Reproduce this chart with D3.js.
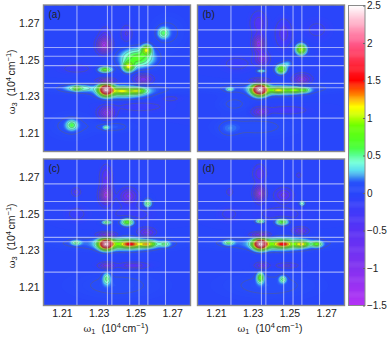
<!DOCTYPE html>
<html>
<head>
<meta charset="utf-8">
<script src="https://d3js.org/d3.v7.min.js"></script>
<style>
  html, body { margin: 0; padding: 0; background: #fff; }
  svg { display: block; }
  text { font-family: "Liberation Sans", Arial, sans-serif; fill: #222; }
  .greek { font-family: "DejaVu Serif", "Liberation Serif", serif; }
</style>
</head>
<body>
<div id="chart"></div>
<script>
// peaks, one row per feature: [w1, w3, height, width in w1, width in w3]
const peaksA = [
  [1.2340, 1.2338, 2.05, 0.0026, 0.0022], [1.2340, 1.2385, -1.0, 0.0030, 0.0010],
  [1.2425, 1.2331, 0.55, 0.0030, 0.0011], [1.2510, 1.2331, 0.62, 0.0032, 0.0011],
  [1.2440, 1.2322, 0.50, 0.0090, 0.0024], [1.2180, 1.2344, 0.36, 0.0014, 0.0008],
  [1.2190, 1.2346, 0.42, 0.0050, 0.0012], [1.2462, 1.2462, 0.95, 0.0020, 0.0018],
  [1.2561, 1.2556, 0.90, 0.0018, 0.0018], [1.2510, 1.2510, 0.72, 0.0064, 0.0036],
  [1.2652, 1.2647, 0.46, 0.0020, 0.0020], [1.2335, 1.2447, 0.75, 0.0026, 0.0011],
  [1.2154, 1.2144, 0.47, 0.0020, 0.0018], [1.2340, 1.2131, 0.36, 0.0011, 0.0007],
  [1.2330, 1.2580, -1.35, 0.0024, 0.0028], [1.2335, 1.2640, -0.25, 0.0020, 0.0030],
  [1.2344, 1.2211, -0.95, 0.0028, 0.0022], [1.2543, 1.2394, -0.85, 0.0030, 0.0018],
  [1.2452, 1.2644, -0.32, 0.0020, 0.0030], [1.2180, 1.2453, -0.18, 0.0060, 0.0018],
  [1.2150, 1.2140, 0.15, 0.0080, 0.0045], [1.2380, 1.2135, 0.16, 0.0070, 0.0020],
  [1.2680, 1.2650, 0.14, 0.0060, 0.0060], [1.2525, 1.2245, -0.18, 0.0100, 0.0020],
  [1.2690, 1.2290, -0.16, 0.0040, 0.0012], [1.2400, 1.2340, 0.14, 0.0300, 0.0020]
];
const peaksB = [
  [1.2338, 1.2338, 2.20, 0.0028, 0.0022], [1.2338, 1.2385, -0.8, 0.0032, 0.0010],
  [1.2440, 1.2335, 0.70, 0.0030, 0.0010], [1.2530, 1.2335, 0.62, 0.0030, 0.0010],
  [1.2587, 1.2335, 0.36, 0.0020, 0.0009], [1.2450, 1.2330, 0.35, 0.0095, 0.0019],
  [1.2175, 1.2340, 0.38, 0.0014, 0.0007], [1.2455, 1.2449, 0.85, 0.0020, 0.0017],
  [1.2490, 1.2480, 0.26, 0.0020, 0.0014], [1.2347, 1.2440, 0.42, 0.0019, 0.0007],
  [1.2564, 1.2558, 1.05, 0.0020, 0.0020], [1.2333, 1.2589, -1.10, 0.0020, 0.0030],
  [1.2350, 1.2507, -0.75, 0.0024, 0.0024], [1.2333, 1.2700, -0.42, 0.0028, 0.0040],
  [1.2469, 1.2644, -0.40, 0.0028, 0.0048], [1.2569, 1.2394, -0.80, 0.0030, 0.0018],
  [1.2342, 1.2216, -0.72, 0.0028, 0.0016], [1.2487, 1.2225, -0.30, 0.0070, 0.0014],
  [1.2324, 1.2135, 0.14, 0.0140, 0.0040], [1.2170, 1.2125, 0.13, 0.0040, 0.0030],
  [1.2215, 1.2480, -0.16, 0.0060, 0.0030], [1.2650, 1.2665, -0.14, 0.0050, 0.0040],
  [1.2400, 1.2345, 0.15, 0.0300, 0.0020], [1.2200, 1.2260, 0.13, 0.0060, 0.0030]
];
const peaksC = [
  [1.2340, 1.2335, 1.95, 0.0026, 0.0020], [1.2344, 1.2385, -0.85, 0.0034, 0.0010],
  [1.2471, 1.2335, 0.85, 0.0032, 0.0011], [1.2565, 1.2335, 0.85, 0.0030, 0.0011],
  [1.2450, 1.2335, 0.62, 0.0095, 0.0023], [1.2177, 1.2343, 0.42, 0.0019, 0.0009],
  [1.2660, 1.2335, 0.40, 0.0020, 0.0010], [1.2344, 1.2147, 0.45, 0.0014, 0.0022],
  [1.2344, 1.2454, 0.60, 0.0019, 0.0008], [1.2456, 1.2456, 0.80, 0.0026, 0.0015],
  [1.2567, 1.2557, 0.60, 0.0016, 0.0016], [1.2340, 1.2603, -1.30, 0.0021, 0.0030],
  [1.2340, 1.2700, -0.50, 0.0020, 0.0040], [1.2462, 1.2597, -0.75, 0.0030, 0.0026],
  [1.2177, 1.2620, -0.35, 0.0016, 0.0015], [1.2561, 1.2398, -0.60, 0.0030, 0.0016],
  [1.2344, 1.2218, -0.65, 0.0028, 0.0011], [1.2489, 1.2218, -0.50, 0.0050, 0.0011],
  [1.2400, 1.2110, 0.15, 0.0160, 0.0050], [1.2180, 1.2500, -0.16, 0.0040, 0.0030],
  [1.2480, 1.2500, -0.16, 0.0090, 0.0035], [1.2400, 1.2340, 0.16, 0.0300, 0.0025]
];
const peaksD = [
  [1.2342, 1.2335, 1.95, 0.0026, 0.0020], [1.2342, 1.2385, -0.85, 0.0034, 0.0010],
  [1.2465, 1.2335, 0.85, 0.0030, 0.0011], [1.2567, 1.2335, 0.80, 0.0026, 0.0011],
  [1.2450, 1.2335, 0.62, 0.0095, 0.0023], [1.2650, 1.2335, 0.60, 0.0020, 0.0011],
  [1.2169, 1.2343, 0.47, 0.0020, 0.0009], [1.2342, 1.2152, 0.70, 0.0013, 0.0020],
  [1.2464, 1.2143, 0.45, 0.0013, 0.0013], [1.2342, 1.2460, 0.60, 0.0019, 0.0008],
  [1.2460, 1.2457, 0.75, 0.0026, 0.0013], [1.2569, 1.2557, 0.48, 0.0011, 0.0010],
  [1.2338, 1.2612, -1.25, 0.0019, 0.0026], [1.2338, 1.2720, -0.45, 0.0022, 0.0030],
  [1.2469, 1.2603, -0.55, 0.0030, 0.0023], [1.2175, 1.2620, -0.30, 0.0011, 0.0013],
  [1.2551, 1.2712, -0.25, 0.0009, 0.0009], [1.2560, 1.2407, -0.55, 0.0027, 0.0013],
  [1.2350, 1.2218, -0.55, 0.0024, 0.0011], [1.2487, 1.2218, -0.35, 0.0040, 0.0010],
  [1.2390, 1.2110, 0.15, 0.0170, 0.0050], [1.2170, 1.2500, -0.14, 0.0040, 0.0030],
  [1.2450, 1.2500, -0.16, 0.0100, 0.0035], [1.2400, 1.2340, 0.16, 0.0300, 0.0025]
];

const panelNames = ["(a)", "(b)", "(c)", "(d)"];
const panelPeaks = [peaksA, peaksB, peaksC, peaksD];
const guideLines = [1.2182, 1.2348, 1.2372, 1.2469, 1.252, 1.2568, 1.2664];
const axisTicks = [1.21, 1.23, 1.25, 1.27];
const barTicks = [-1.5, -1, -0.5, 0, 0.5, 1, 1.5, 2, 2.5];
const colourValues = [-1.5, -1, -0.5, -0.2, 0, 0.14, 0.22, 0.3, 0.4, 0.5, 0.62, 0.9, 1.05, 1.15, 1.3, 1.5, 2, 2.5];
const colourStops = ["#b432f5", "#8232f0", "#5a32f5", "#3c3cfa", "#2846fa", "#2850fa", "#3c96f0", "#5adcf0", "#78ffdc", "#5aff96", "#46ff32", "#6eff00", "#d2ff00", "#ffff00", "#ff8c00", "#ff0000", "#ff5a8c", "#ffffff"];
const negativeLevels = [-1.3, -1.1, -0.9, -0.7, -0.5, -0.3, -0.1];
const positiveLevels = [0.1, 0.35, 0.5, 0.65, 0.8, 1, 1.2, 1.4, 1.6, 1.8, 2, 2.2, 2.4];

const width = 387;
const height = 338;
const panelW = 147;
const panelH = 146.5;
const lefts = [43.5, 197.5];
const tops = [5, 159];
const gridN = 160;

const colour = d3.scaleLinear().domain(colourValues).range(colourStops).clamp(true);
const fillLevels = d3.range(-1.5, 2.6, 0.025);
const lineLevels = negativeLevels.concat(positiveLevels);

const svg = d3.select("#chart").append("svg").attr("width", width).attr("height", height);

function fieldFor(peaks) {
  const grid = d3.scaleLinear().domain([0, gridN - 1]).range([1.2, 1.28]);
  const values = new Float64Array(gridN * gridN);
  for (let j = 0; j < gridN; j++) {
    for (let i = 0; i < gridN; i++) {
      let v = 0;
      peaks.forEach(([a, b, h, sa, sb]) => {
        const dx = (grid(i) - a) / sa;
        const dy = (grid(j) - b) / sb;
        v += h * Math.exp(-0.5 * (dx * dx + dy * dy));
      });
      values[j * gridN + i] = v;
    }
  }
  return values;
}

panelNames.forEach((name, k) => {
  const left = lefts[k % 2];
  const top = tops[k < 2 ? 0 : 1];
  const x = d3.scaleLinear().domain([1.2, 1.28]).range([0, panelW]);
  const y = d3.scaleLinear().domain([1.2, 1.28]).range([panelH, 0]);
  const fromGrid = d3.scaleLinear().domain([0, gridN - 1]).range([1.2, 1.28]);

  const g = svg.append("g").attr("transform", `translate(${left},${top})`);
  const clipId = "clip" + k;
  g.append("clipPath").attr("id", clipId).append("rect").attr("width", panelW).attr("height", panelH);

  const plot = g.append("g").attr("clip-path", `url(#${clipId})`);
  plot.append("rect").attr("x", -2).attr("y", -2).attr("width", panelW + 4).attr("height", panelH + 4).attr("fill", colour(0));

  const values = fieldFor(panelPeaks[k]);
  const project = d3.geoTransform({
    point(px, py) { this.stream.point(x(fromGrid(px - 0.5)), y(fromGrid(py - 0.5))); }
  });
  const path = d3.geoPath(project);
  const contours = d3.contours().size([gridN, gridN]);

  plot.selectAll("path.fill")
    .data(contours.thresholds(fillLevels)(values))
    .join("path")
    .attr("class", "fill")
    .attr("d", path)
    .attr("fill", (d) => colour(d.value));

  plot.selectAll("path.line")
    .data(contours.thresholds(lineLevels)(values))
    .join("path")
    .attr("class", "line")
    .attr("d", path)
    .attr("fill", "none")
    .attr("stroke", "#666")
    .attr("stroke-opacity", 0.8)
    .attr("stroke-width", 0.55);

  const guides = g.append("g").attr("clip-path", `url(#${clipId})`);
  guides.selectAll("line.v").data(guideLines).join("line")
    .attr("class", "v")
    .attr("x1", (d) => x(d)).attr("x2", (d) => x(d))
    .attr("y1", 0).attr("y2", panelH)
    .attr("stroke", "#fff").attr("stroke-opacity", 0.55).attr("stroke-width", 1.1);
  guides.selectAll("line.h").data(guideLines).join("line")
    .attr("class", "h")
    .attr("y1", (d) => y(d)).attr("y2", (d) => y(d))
    .attr("x1", 0).attr("x2", panelW)
    .attr("stroke", "#fff").attr("stroke-opacity", 0.55).attr("stroke-width", 1.1);

  g.append("text").attr("x", 5).attr("y", 13).attr("font-size", 10).text(name);

  g.append("rect").attr("width", panelW).attr("height", panelH)
    .attr("fill", "none").attr("stroke", "#8a8a8a").attr("stroke-width", 1.4);

  if (k % 2 === 0) {
    const yAxis = g.append("g").call(d3.axisLeft(y).tickValues(axisTicks).tickSize(0).tickPadding(4).tickFormat(d3.format(".2f")));
    yAxis.select(".domain").remove();
    yAxis.selectAll("text").attr("font-size", 10.5);
    const label = g.append("text")
      .attr("transform", `translate(-29,${panelH / 2 + 36}) rotate(-90)`)
      .attr("font-size", 10.5);
    label.append("tspan").attr("class", "greek").attr("font-size", 9.5).text("ω");
    label.append("tspan").attr("dy", 2.5).attr("font-size", 7.5).text("3");
    label.append("tspan").attr("dy", -2.5).attr("dx", 6).text("(10");
    label.append("tspan").attr("dy", -4).attr("font-size", 7.5).text("4");
    label.append("tspan").attr("dy", 4).attr("dx", 1.5).text("cm");
    label.append("tspan").attr("dy", -4).attr("font-size", 7.5).text("−1");
    label.append("tspan").attr("dy", 4).text(")");
  }
  if (k >= 2) {
    const xAxis = g.append("g").attr("transform", `translate(0,${panelH})`)
      .call(d3.axisBottom(x).tickValues(axisTicks).tickSize(0).tickPadding(4).tickFormat(d3.format(".2f")));
    xAxis.select(".domain").remove();
    xAxis.selectAll("text").attr("font-size", 10.5);
    const label = g.append("text")
      .attr("x", panelW / 2 - 1).attr("y", panelH + 26).attr("text-anchor", "middle")
      .attr("font-size", 10.5);
    label.append("tspan").attr("class", "greek").attr("font-size", 9.5).text("ω");
    label.append("tspan").attr("dy", 2.5).attr("font-size", 7.5).text("1");
    label.append("tspan").attr("dy", -2.5).attr("dx", 6).text("(10");
    label.append("tspan").attr("dy", -4).attr("font-size", 7.5).text("4");
    label.append("tspan").attr("dy", 4).attr("dx", 1.5).text("cm");
    label.append("tspan").attr("dy", -4).attr("font-size", 7.5).text("−1");
    label.append("tspan").attr("dy", 4).text(")");
  }
});

// colour bar
const barX = 348.5;
const barW = 16.5;
const barY = d3.scaleLinear().domain([-1.5, 2.5]).range([305.5, 5.5]);
const bar = svg.append("g");
bar.selectAll("rect").data(d3.range(-1.5, 2.5, 0.0125)).join("rect")
  .attr("x", barX).attr("width", barW)
  .attr("y", (d) => barY(d + 0.0125))
  .attr("height", (d) => barY(d) - barY(d + 0.0125) + 0.5)
  .attr("fill", (d) => colour(d));
bar.append("rect").attr("x", barX).attr("y", barY(2.5)).attr("width", barW).attr("height", barY(-1.5) - barY(2.5))
  .attr("fill", "none").attr("stroke", "#8a8a8a").attr("stroke-width", 1);
const barAxis = svg.append("g").attr("transform", `translate(${barX + barW},0)`)
  .call(d3.axisRight(barY).tickValues(barTicks).tickSize(-2).tickPadding(2).tickFormat((d) => String(d).replace("-", "−")));
barAxis.select(".domain").remove();
barAxis.selectAll("line").attr("stroke", "#666");
barAxis.selectAll("text").attr("font-size", 10);
</script>
</body>
</html>
